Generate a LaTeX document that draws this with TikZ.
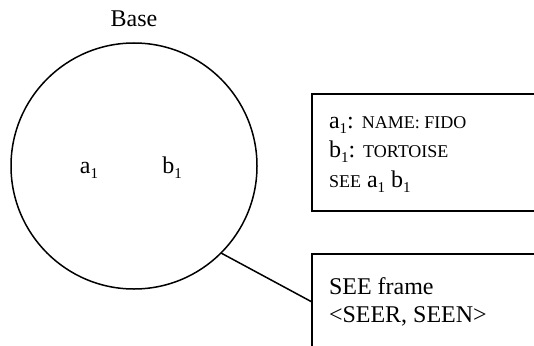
\documentclass[tikz,border=0pt]{standalone}
\usepackage{fontspec}
\setmainfont{Liberation Serif}
\newcommand\subone{\raisebox{-5pt}{\fontsize{15}{15}\selectfont 1}}
\newcommand\smcap[1]{{\fontsize{18}{18}\selectfont #1}}
\begin{document}
\begin{tikzpicture}[x=1pt,y=-1pt,
  every node/.style={inner sep=0pt, outer sep=0pt},
  txt/.style={anchor=base west, font=\fontsize{24}{29}\selectfont},
  frame/.style={draw, line width=1.5pt, rectangle, anchor=north west},
  link/.style={draw, line width=1.5pt}]
\useasboundingbox (0,0) rectangle (534,345);
\node[circle, draw, line width=1.5pt, minimum size=246pt] (base) at (134,166) {};
\node[txt, anchor=base] (lbl) at (134,27) {Base};
\node[txt, anchor=base] (a) at (89,173) {a\subone};
\node[txt, anchor=base] (b) at (172,173) {b\subone};
\begin{scope}
  \clip (0,0) rectangle (534,345);
  \node[frame, minimum width=260pt, minimum height=117pt] (box1) at (312,94) {};
  \node[frame, minimum width=260pt, minimum height=120pt] (box2) at (312,254) {};
\end{scope}
\node[txt] (l1) at (329,128) {a\subone: \smcap{NAME: FIDO}};
\node[txt] (l2) at (329,157) {b\subone: \smcap{TORTOISE}};
\node[txt] (l3) at (329,187) {\smcap{SEE} a\subone{} b\subone};
\node[txt] (m1) at (329,294) {SEE frame};
\node[txt] (m2) at (329,322) {<SEER, SEEN>};
\coordinate (tip) at (312,302);
\draw[link] (base.315) -- (tip);
\end{tikzpicture}
\end{document}
